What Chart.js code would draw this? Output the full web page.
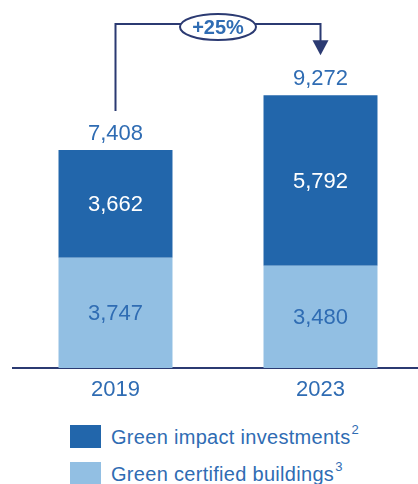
<!DOCTYPE html>
<html>
<head>
<meta charset="utf-8">
<script src="https://cdn.jsdelivr.net/npm/chart.js@4.4.1/dist/chart.umd.min.js"></script>
<style>
    html, body { margin: 0; padding: 0; background: #fff; overflow: hidden; width: 418px; height: 484px; }
    #wrap { position: relative; width: 418px; height: 484px; overflow: hidden; }
    #chart { position: absolute; left: 0; top: 0; }
    #legend { position: absolute; left: 70px; top: 424px; font-family: "Liberation Sans", Arial, sans-serif; }
    .legend-item { display: flex; align-items: center; height: 24px; margin-bottom: 13px; color: #2f6cb3; font-size: 20px; letter-spacing: 0.3px; }
    .legend-box { width: 31px; height: 23px; margin-right: 10px; flex: none; }
    .legend-item sup { font-size: 13px; position: relative; top: -2px; margin-left: 1px; }
</style>
</head>
<body>
<div id="wrap">
    <canvas id="chart" width="423" height="398"></canvas>
    <div id="legend"></div>
</div>
<script>
// ─── Data ────────────────────────────────────────────────────────────────
const years          = ['2019', '2023'];
const greenBuildings = [3747, 3480];   // bottom segment
const greenImpact    = [3662, 5792];   // top segment
const totals         = [7408, 9272];   // as printed above the bars

const legendLabels = [
    { text: 'Green impact investments',  note: '2', color: '#2266ab' },
    { text: 'Green certified buildings', note: '3', color: '#92bfe3' },
];

const COLORS = {
    dark:  '#2266ab',
    light: '#92bfe3',
    text:  '#2f6cb3',
    navy:  '#2b3a72',
};
const FONT = '"Liberation Sans", Arial, sans-serif';

const fmt = v => Number(v).toLocaleString('en-US');

// ─── Plugins ─────────────────────────────────────────────────────────────

/** Segment values inside the bars and the totals above them. */
const valueLabels = {
    id: 'valueLabels',
    afterDatasetsDraw(chart) {
        const ctx = chart.ctx;
        ctx.save();
        ctx.font = `22px ${FONT}`;
        ctx.textAlign = 'center';
        ctx.textBaseline = 'middle';

        chart.data.datasets.forEach((ds, di) => {
            chart.getDatasetMeta(di).data.forEach((bar, i) => {
                const mid = (bar.y + bar.base) / 2;
                ctx.fillStyle = di === 1 ? '#ffffff' : COLORS.text;
                ctx.fillText(fmt(ds.data[i]), bar.x, mid + 1);
            });
        });

        const topMeta = chart.getDatasetMeta(1);
        ctx.fillStyle = COLORS.text;
        ctx.textBaseline = 'alphabetic';
        topMeta.data.forEach((bar, i) => {
            ctx.fillText(fmt(totals[i]), bar.x, bar.y - 10);
        });
        ctx.restore();
    },
};

/** Bracket arrow from the first total to the second, with the growth badge. */
const growthArrow = {
    id: 'growthArrow',
    afterDraw(chart) {
        const ctx  = chart.ctx;
        const bars = chart.getDatasetMeta(1).data;
        const x1 = bars[0].x, x2 = bars[1].x;
        const yTop = 24;
        const yLeftEnd = bars[0].y - 39;
        const tipY = bars[1].y - 40;

        ctx.save();
        ctx.strokeStyle = COLORS.navy;
        ctx.fillStyle = COLORS.navy;
        ctx.lineWidth = 2;

        ctx.beginPath();
        ctx.moveTo(x1, yLeftEnd);
        ctx.lineTo(x1, yTop);
        ctx.lineTo(x2, yTop);
        ctx.lineTo(x2, tipY - 14);
        ctx.stroke();

        ctx.beginPath();
        ctx.moveTo(x2 - 8, tipY - 15);
        ctx.lineTo(x2 + 8, tipY - 15);
        ctx.lineTo(x2, tipY);
        ctx.closePath();
        ctx.fill();

        // badge
        const cx = (x1 + x2) / 2;
        ctx.beginPath();
        ctx.ellipse(cx, 27, 38, 13, 0, 0, Math.PI * 2);
        ctx.fillStyle = '#ffffff';
        ctx.fill();
        ctx.stroke();

        const pct = Math.round((totals[1] / totals[0] - 1) * 100);
        ctx.fillStyle = COLORS.text;
        ctx.font = `bold 20px ${FONT}`;
        ctx.textAlign = 'center';
        ctx.textBaseline = 'middle';
        ctx.fillText(`+${pct}%`, cx, 28);
        ctx.restore();
    },
};

// ─── Chart ───────────────────────────────────────────────────────────────

new Chart(document.getElementById('chart'), {
    type: 'bar',
    data: {
        labels: years,
        datasets: [
            { label: 'Green certified buildings', data: greenBuildings, backgroundColor: COLORS.light },
            { label: 'Green impact investments',  data: greenImpact,    backgroundColor: COLORS.dark },
        ],
    },
    options: {
        responsive: false,
        animation: false,
        layout: { padding: { top: 15, left: 13, right: 0, bottom: 0 } },
        datasets: { bar: { barPercentage: 0.556, categoryPercentage: 1 } },
        plugins: { legend: { display: false }, tooltip: { enabled: false } },
        scales: {
            x: {
                stacked: true,
                grid: { display: false, drawTicks: false },
                border: { display: true, color: COLORS.navy, width: 2 },
                ticks: { color: COLORS.text, font: { family: FONT, size: 22 }, padding: 9 },
                afterFit(scale) { scale.height = 30; },
            },
            y: {
                stacked: true,
                display: false,
                min: 0,
                max: 12000,
            },
        },
    },
    plugins: [valueLabels, growthArrow],
});

// ─── Legend ──────────────────────────────────────────────────────────────

document.getElementById('legend').innerHTML = legendLabels.map(l =>
    `<div class="legend-item"><span class="legend-box" style="background:${l.color}"></span>` +
    `<span>${l.text}<sup>${l.note}</sup></span></div>`
).join('');
</script>
</body>
</html>
